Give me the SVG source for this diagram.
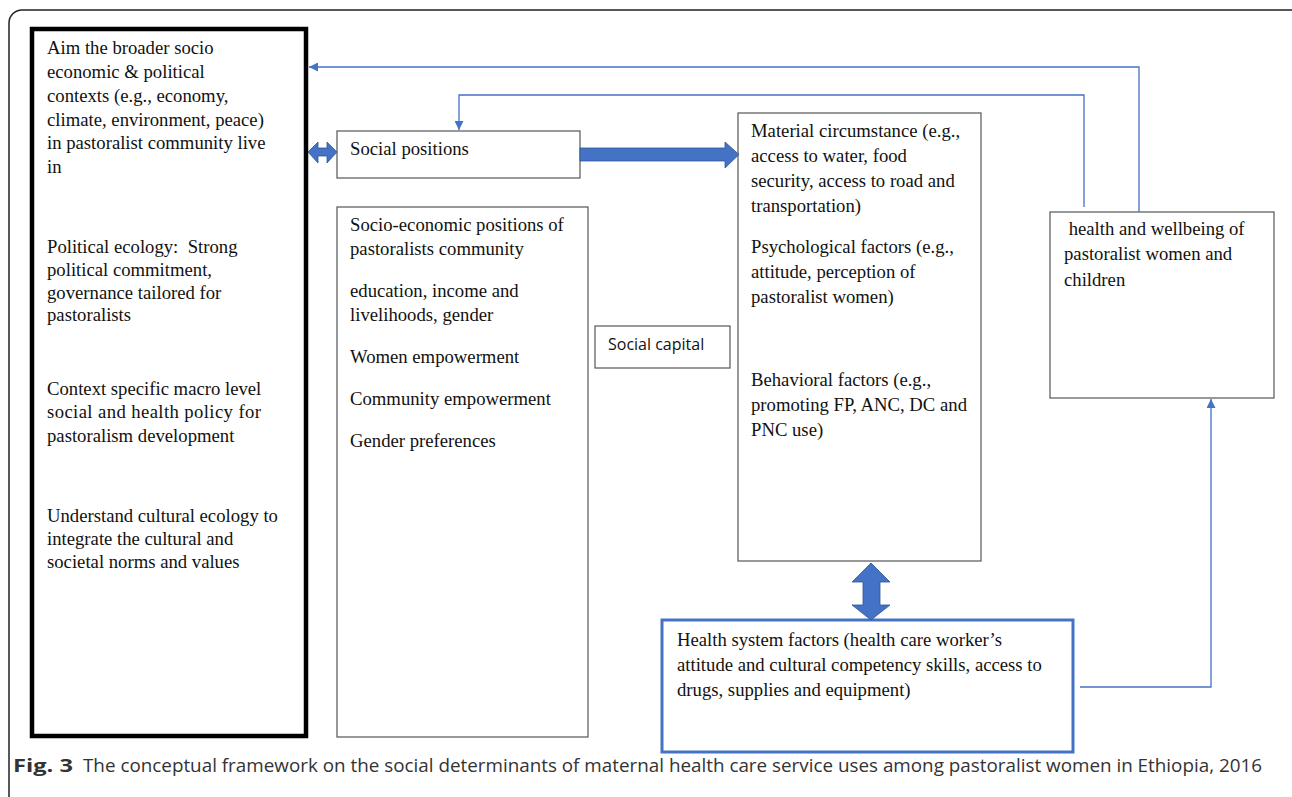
<svg xmlns="http://www.w3.org/2000/svg" width="1292" height="797" viewBox="0 0 1292 797">
<style>
.t{font-family:"Liberation Serif","Times New Roman",serif;font-size:18.7px;fill:#111}
.s{font-family:"Open Sans","Liberation Sans",sans-serif;font-size:16px;fill:#111}
.box{fill:#fff;stroke:#555;stroke-width:1.2}
.con{fill:none;stroke:#4472C4;stroke-width:1.3}
.fat{fill:#4472C4;stroke:#2F5597;stroke-width:0.8}
.cap{font-family:"Open Sans","Liberation Sans",sans-serif;font-size:18px;fill:#333}
</style>
<defs>
<marker id="ah" viewBox="0 0 10 10" refX="10" refY="5" markerWidth="9" markerHeight="9" markerUnits="userSpaceOnUse" orient="auto">
<path d="M0,0 L10,5 L0,10 z" fill="#4472C4"/>
</marker>
</defs>
<rect width="1292" height="797" fill="#fff"/>
<rect x="9" y="10" width="1295" height="800" rx="13" fill="none" stroke="#222" stroke-width="1.5"/>

<g id="n-context">
<rect x="32" y="29" width="274" height="707" fill="#fff" stroke="#000" stroke-width="4.5"/>
<text class="t" x="47" y="54">Aim the broader socio</text>
<text class="t" x="47" y="78">economic &amp; political</text>
<text class="t" x="47" y="102">contexts (e.g., economy,</text>
<text class="t" x="47" y="126">climate, environment, peace)</text>
<text class="t" x="47" y="149">in pastoralist community live</text>
<text class="t" x="47" y="173">in</text>
<text class="t" x="47" y="253" xml:space="preserve">Political ecology:  Strong</text>
<text class="t" x="47" y="276">political commitment,</text>
<text class="t" x="47" y="299">governance tailored for</text>
<text class="t" x="47" y="321">pastoralists</text>
<text class="t" x="47" y="395">Context specific macro level</text>
<text class="t" x="47" y="418" textLength="214" lengthAdjust="spacing">social and health policy for</text>
<text class="t" x="47" y="442">pastoralism development</text>
<text class="t" x="47" y="522">Understand cultural ecology to</text>
<text class="t" x="47" y="545">integrate the cultural and</text>
<text class="t" x="47" y="568">societal norms and values</text>
</g>

<g id="n-socialpos">
<rect class="box" x="337" y="131" width="243" height="47"/>
<text class="t" x="350" y="155">Social positions</text>
</g>

<g id="n-socioeco">
<rect class="box" x="337" y="207" width="251" height="530"/>
<text class="t" x="350" y="231">Socio-economic positions of</text>
<text class="t" x="350" y="255">pastoralists community</text>
<text class="t" x="350" y="297">education, income and</text>
<text class="t" x="350" y="321">livelihoods, gender</text>
<text class="t" x="350" y="363">Women empowerment</text>
<text class="t" x="350" y="405">Community empowerment</text>
<text class="t" x="350" y="447">Gender preferences</text>
</g>

<g id="n-capital">
<rect class="box" x="595" y="326" width="135" height="42"/>
<text class="s" x="608" y="350">Social capital</text>
</g>

<g id="n-material">
<rect class="box" x="738" y="113" width="243" height="448"/>
<text class="t" x="751" y="137">Material circumstance (e.g.,</text>
<text class="t" x="751" y="162">access to water, food</text>
<text class="t" x="751" y="187">security, access to road and</text>
<text class="t" x="751" y="212">transportation)</text>
<text class="t" x="751" y="253">Psychological factors (e.g.,</text>
<text class="t" x="751" y="278">attitude, perception of</text>
<text class="t" x="751" y="303">pastoralist women)</text>
<text class="t" x="751" y="386">Behavioral factors (e.g.,</text>
<text class="t" x="751" y="411">promoting FP, ANC, DC and</text>
<text class="t" x="751" y="436">PNC use)</text>
</g>

<g id="n-wellbeing">
<rect class="box" x="1050" y="212" width="224" height="186"/>
<text class="t" x="1064" y="235" xml:space="preserve"> health and wellbeing of</text>
<text class="t" x="1064" y="260">pastoralist women and</text>
<text class="t" x="1064" y="286">children</text>
</g>

<g id="n-healthsys">
<rect x="662" y="620" width="411" height="132" fill="#fff" stroke="#4472C4" stroke-width="3"/>
<text class="t" x="677" y="646">Health system factors (health care worker’s</text>
<text class="t" x="677" y="671">attitude and cultural competency skills, access to</text>
<text class="t" x="677" y="696">drugs, supplies and equipment)</text>
</g>

<g id="connectors">
<path class="fat" d="M308,152 L318,142 L318,148 L327,148 L327,142 L337,152 L327,163 L327,156 L318,156 L318,163 z"/>
<path class="fat" d="M580,148 L725,148 L725,142 L739,154.5 L725,168 L725,161 L580,161 z"/>
<path class="fat" d="M871,563 L890,582 L880,582 L880,605 L890,605 L871,620 L852,605 L863,605 L863,582 L852,582 z"/>
<path class="con" d="M1139,212 L1139,67 L309,67" marker-end="url(#ah)"/>
<path class="con" d="M1084,207 L1084,95 L459,95 L459,130" marker-end="url(#ah)"/>
<path class="con" d="M1080,687 L1211,687 L1211,399" marker-end="url(#ah)"/>
</g>

<g id="caption">
<text class="cap" x="13" y="772" font-size="19.5" font-weight="bold" fill="#222" textLength="60" lengthAdjust="spacingAndGlyphs">Fig. 3</text>
<text class="cap" x="83" y="772" textLength="1179" lengthAdjust="spacingAndGlyphs">The conceptual framework on the social determinants of maternal health care service uses among pastoralist women in Ethiopia, 2016</text>
</g>
</svg>
